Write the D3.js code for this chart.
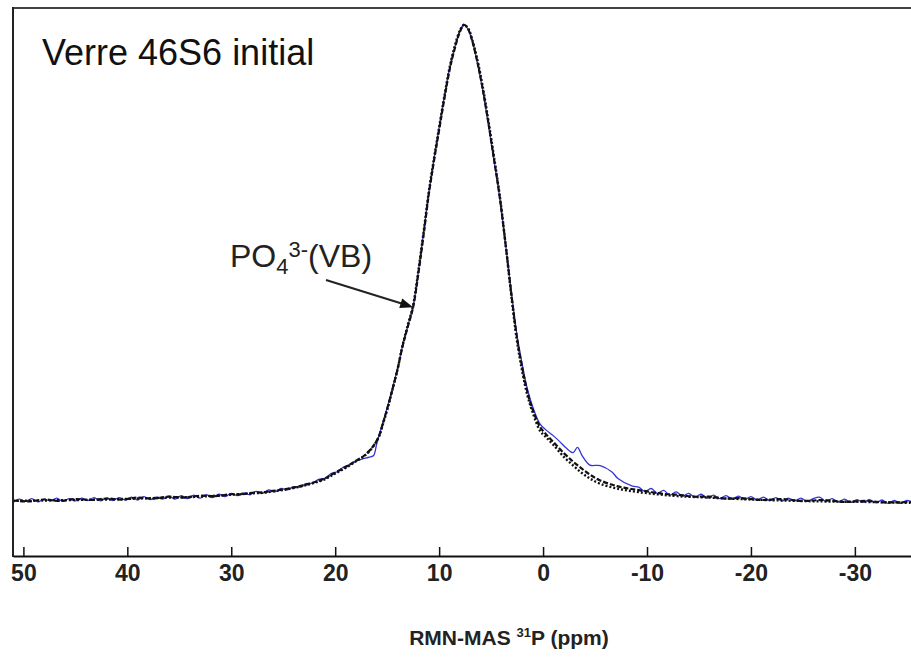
<!DOCTYPE html>
<html><head><meta charset="utf-8">
<script src="https://cdn.jsdelivr.net/npm/d3@7"></script>
<style>body{margin:0;background:#fff}svg{display:block}</style>
</head><body><svg id="c" width="911" height="659"></svg>
<script>
// ---- data (ppm, intensity) ----
const tickValues = [50, 40, 30, 20, 10, 0, -10, -20, -30];
const titleText = "Verre 46S6 initial";
const axisTitle = "RMN-MAS";
const peakLabel = "PO";

// experimental spectrum (blue, solid)
const expPpm = [51.0,50.4,49.8,49.2,48.6,48.0,47.4,46.8,46.2,45.6,45.0,44.4,43.8,43.2,42.6,42.0,41.4,40.8,40.2,39.6,39.0,38.4,37.8,37.2,36.6,36.0,35.4,34.8,34.2,33.6,33.0,32.4,31.8,31.2,30.6,30.0,29.4,28.8,28.2,27.6,27.0,26.4,25.8,25.2,24.6,24.0,23.4,22.8,22.2,21.6,21.0,20.4,19.8,19.2,18.6,18.0,17.5,17.0,16.6,16.3,16.0,15.6,15.2,14.8,14.4,14.0,13.5,13.0,12.5,12.0,11.5,11.0,10.5,10.0,9.5,9.0,8.5,8.0,7.6,7.2,6.8,6.3,5.8,5.3,4.8,4.2,3.6,3.0,2.5,2.0,1.5,1.0,0.3,-0.3,-1.0,-1.6,-2.2,-2.9,-3.3,-3.8,-4.5,-5.5,-6.6,-7.2,-8.6,-9.2,-9.8,-10.4,-11.0,-11.6,-12.2,-12.8,-13.4,-14.0,-14.6,-15.2,-15.8,-16.4,-17.0,-17.6,-18.2,-18.8,-19.4,-20.0,-20.6,-21.2,-21.8,-22.4,-23.0,-23.6,-24.2,-24.8,-25.4,-26.0,-26.6,-27.2,-27.8,-28.4,-29.0,-29.6,-30.2,-30.8,-31.4,-32.0,-32.6,-33.2,-33.8,-34.4,-35.0,-35.5];
const expVal = [0.003,0.009,0.004,0.010,0.003,0.009,0.005,0.011,0.004,0.010,0.005,0.011,0.006,0.012,0.005,0.011,0.006,0.012,0.007,0.013,0.007,0.014,0.008,0.013,0.009,0.015,0.009,0.016,0.010,0.017,0.011,0.018,0.012,0.019,0.014,0.021,0.016,0.022,0.018,0.025,0.021,0.028,0.024,0.031,0.028,0.035,0.034,0.041,0.042,0.050,0.052,0.062,0.066,0.076,0.081,0.088,0.092,0.095,0.097,0.100,0.125,0.155,0.185,0.215,0.248,0.282,0.33,0.372,0.412,0.485,0.565,0.648,0.718,0.785,0.85,0.908,0.952,0.987,1.0,0.99,0.965,0.918,0.862,0.797,0.727,0.643,0.54,0.432,0.35,0.29,0.238,0.202,0.166,0.153,0.141,0.129,0.116,0.106,0.117,0.098,0.080,0.079,0.066,0.052,0.036,0.034,0.025,0.031,0.021,0.027,0.017,0.024,0.015,0.021,0.013,0.019,0.011,0.017,0.010,0.016,0.009,0.015,0.008,0.014,0.007,0.013,0.006,0.012,0.005,0.011,0.005,0.011,0.004,0.010,0.013,0.004,0.010,0.003,0.009,0.002,0.008,0.002,0.008,0.001,0.007,0.000,0.006,0.000,0.006,0.002];

// fitted total (black, dashed)
const fitPpm = [51,49.5,48,46.5,45,43.5,42,40.5,39,37.5,36,34.5,33,31.5,30,29,28,27,26,25,24,23,22,21,20.2,19,18,17.2,16.4,15.8,15.4,14.9,14.4,14,13.5,13,12.5,12,11.5,11,10.5,10,9.5,9,8.5,8,7.6,7.2,6.8,6.3,5.8,5.3,4.8,4.2,3.6,3.0,2.5,2.0,1.5,1.0,0.3,-0.3,-1.0,-2.0,-2.9,-3.7,-4.5,-5.5,-7.1,-8.5,-10,-11.5,-13,-14.5,-16,-17.5,-19,-21,-23,-25,-27,-29,-31,-33,-35.5];
const fitVal = [0.006,0.004,0.008,0.005,0.009,0.007,0.010,0.008,0.012,0.010,0.014,0.012,0.016,0.015,0.019,0.019,0.022,0.023,0.026,0.029,0.033,0.038,0.044,0.052,0.062,0.076,0.089,0.100,0.118,0.140,0.168,0.205,0.246,0.280,0.330,0.370,0.410,0.480,0.560,0.645,0.715,0.780,0.845,0.905,0.950,0.985,1.0,0.990,0.965,0.920,0.865,0.800,0.730,0.645,0.540,0.428,0.345,0.283,0.232,0.196,0.160,0.144,0.128,0.105,0.087,0.073,0.060,0.048,0.036,0.030,0.025,0.020,0.018,0.014,0.014,0.010,0.011,0.007,0.009,0.005,0.007,0.003,0.005,0.002,0.003];

// single component (black, dotted)
const compPpm = [51,48,45,42,39,36,33,30,28,27,26,25,24,23,22,21,20.2,19,18,17.2,16.4,15.8,15.4,14.9,14.4,14,13.5,13,12.5,12,11.5,11,10.5,10,9.5,9,8.5,8,7.6,7.2,6.8,6.3,5.8,5.3,4.8,4.2,3.6,3.0,2.5,2.0,1.5,1.0,0.3,-0.3,-1.0,-2.0,-2.9,-3.7,-4.5,-5.5,-7.1,-9,-11,-13,-16,-19,-23,-27,-31,-35.5];
const compVal = [0.005,0.006,0.007,0.008,0.010,0.012,0.014,0.018,0.021,0.022,0.025,0.028,0.032,0.037,0.043,0.050,0.060,0.074,0.088,0.099,0.117,0.139,0.166,0.203,0.245,0.280,0.332,0.374,0.414,0.486,0.566,0.650,0.720,0.786,0.850,0.910,0.955,0.988,1.0,0.992,0.968,0.925,0.870,0.805,0.735,0.648,0.540,0.424,0.338,0.275,0.225,0.190,0.152,0.138,0.122,0.097,0.079,0.064,0.052,0.041,0.031,0.024,0.019,0.015,0.012,0.009,0.006,0.004,0.003,0.001];

const toPts = (xs, ys) => xs.map((p, i) => ({ppm: p, v: ys[i]}));

const svg = d3.select("#c");
const L = 13, T = 8, R = 911, B = 556;
const x = d3.scaleLinear().domain([51.0, -35.4]).range([L, R]);
const y = d3.scaleLinear().domain([-0.11, 1.035]).range([B, T]);

svg.append("defs").append("clipPath").attr("id", "clip")
  .append("rect").attr("x", L).attr("y", T).attr("width", R - L).attr("height", B - T);

const line = d3.line().x(d => x(d.ppm)).y(d => y(d.v)).curve(d3.curveCatmullRom.alpha(0.5));
const g = svg.append("g").attr("clip-path", "url(#clip)");

g.append("path").datum(toPts(expPpm, expVal)).attr("d", line)
  .attr("fill", "none").attr("stroke", "#3434d8").attr("stroke-width", 1.3);
g.append("path").datum(toPts(fitPpm, fitVal)).attr("d", line)
  .attr("fill", "none").attr("stroke", "#111").attr("stroke-width", 2.2).attr("stroke-dasharray", "5,2");
g.append("path").datum(toPts(compPpm, compVal)).attr("d", line)
  .attr("fill", "none").attr("stroke", "#111").attr("stroke-width", 2.4).attr("stroke-dasharray", "2,2");

// frame
svg.append("line").attr("x1", L).attr("x2", R).attr("y1", T).attr("y2", T)
  .attr("stroke", "#444").attr("stroke-width", 2);
svg.append("line").attr("x1", L).attr("x2", L).attr("y1", T - 1).attr("y2", B + 1)
  .attr("stroke", "#222").attr("stroke-width", 2);

// x axis (ticks pointing up)
const ax = svg.append("g").attr("transform", `translate(0,${B})`)
  .call(d3.axisBottom(x).tickValues(tickValues).tickFormat(d => String(d))
    .tickSizeInner(-9).tickSizeOuter(0).tickPadding(9));
ax.select(".domain").attr("stroke", "#111").attr("stroke-width", 2);
ax.selectAll(".tick line").attr("stroke", "#111").attr("stroke-width", 1.5);
ax.selectAll(".tick text").attr("font-family", "Liberation Sans, Arial, sans-serif")
  .attr("font-weight", "bold").attr("font-size", 23).attr("fill", "#222");

// axis title
const at = svg.append("text").attr("x", 509).attr("y", 645).attr("text-anchor", "middle")
  .attr("font-family", "Liberation Sans, Arial, sans-serif").attr("font-weight", "bold")
  .attr("font-size", 21).attr("fill", "#222");
at.append("tspan").text(axisTitle + " ");
at.append("tspan").attr("font-size", 13).attr("dy", -8).text("31");
at.append("tspan").attr("dy", 8).text("P (ppm)");

// chart title
svg.append("text").attr("x", 42).attr("y", 65)
  .attr("font-family", "Liberation Sans, Arial, sans-serif").attr("font-size", 36).attr("fill", "#111")
  .text(titleText);

// peak label
const pl = svg.append("text").attr("x", 230).attr("y", 267)
  .attr("font-family", "Liberation Sans, Arial, sans-serif").attr("font-size", 32).attr("fill", "#222");
pl.append("tspan").text(peakLabel);
pl.append("tspan").attr("font-size", 22).attr("dy", 7).text("4");
pl.append("tspan").attr("font-size", 22).attr("dy", -17).text("3-");
pl.append("tspan").attr("dy", 10).text("(VB)");

// arrow pointing at the curve
const tipPpm = 12.5, tipVal = 0.41;
const tx = x(tipPpm), ty = y(tipVal);
const sx = 326, sy = 280;
const ang = Math.atan2(ty - sy, tx - sx);
const hl = 13, hw = 5;
svg.append("line").attr("x1", sx).attr("y1", sy)
  .attr("x2", tx - Math.cos(ang) * hl * 0.8).attr("y2", ty - Math.sin(ang) * hl * 0.8)
  .attr("stroke", "#222").attr("stroke-width", 2);
const bx = tx - Math.cos(ang) * hl, by = ty - Math.sin(ang) * hl;
svg.append("path").attr("d",
  `M${tx},${ty}L${bx + Math.sin(ang) * hw},${by - Math.cos(ang) * hw}L${bx - Math.sin(ang) * hw},${by + Math.cos(ang) * hw}Z`)
  .attr("fill", "#111");
</script></body></html>
